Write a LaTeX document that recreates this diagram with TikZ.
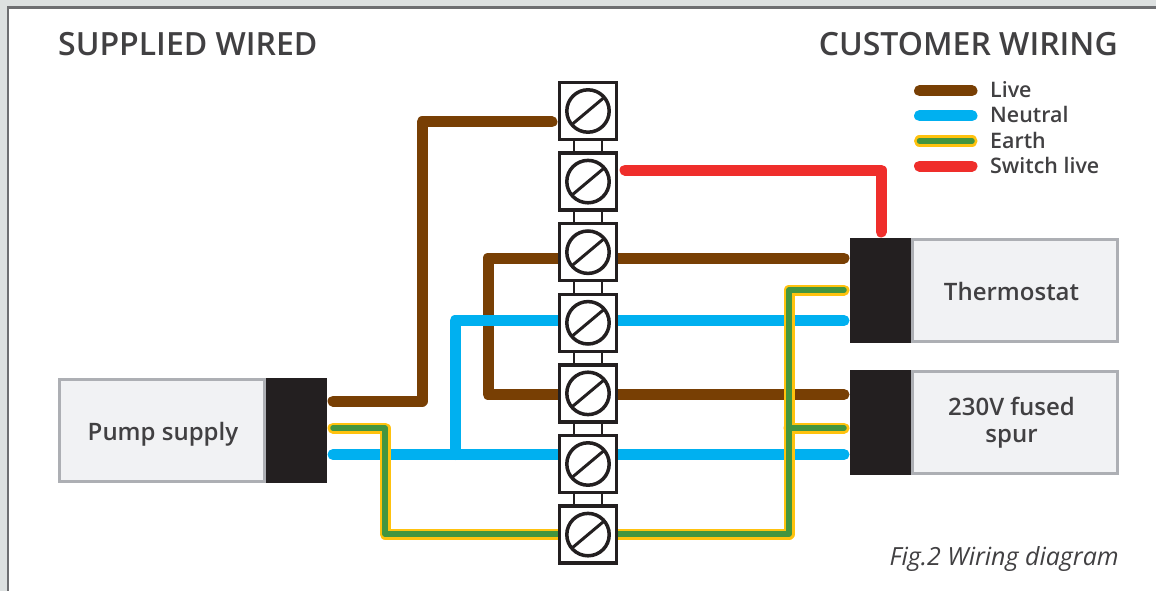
\documentclass[tikz,border=0pt]{standalone}
\usepackage{fontspec}
\setmainfont{Open Sans}
\newfontfamily\wiringfont{Open Sans Semibold}
\definecolor{backgrey}{HTML}{DCE0E0}
\definecolor{framegrey}{HTML}{6D6E71}
\definecolor{textgrey}{HTML}{414042}
\definecolor{blockblack}{HTML}{231F20}
\definecolor{boxfill}{HTML}{F1F2F4}
\definecolor{boxline}{HTML}{ADAFB4}
\definecolor{livebrown}{HTML}{783F04}
\definecolor{neutralblue}{HTML}{00B0F0}
\definecolor{earthyellow}{HTML}{FFC20E}
\definecolor{earthgreen}{HTML}{43953F}
\definecolor{switchred}{HTML}{EF2E2B}
\tikzset{
    live/.style={draw=livebrown, line width=11, line cap=round, line join=round},
    neutral/.style={draw=neutralblue, line width=11, line cap=round, line join=round},
    switched/.style={draw=switchred, line width=11, line cap=round, line join=round},
    earth/.style={draw=earthyellow, double=earthgreen, line width=2.75, double distance=5.5, line cap=round, line join=round},
    terminal/.style={draw=blockblack, fill=white, line width=3.5, minimum size=57, inner sep=0},
    block/.style={fill=blockblack, minimum width=61, inner sep=0},
    device/.style={draw=boxline, fill=boxfill, line width=2.2, minimum width=205, minimum height=102, inner sep=0},
    devicetext/.style={inner sep=0, text=textgrey, align=center, font=\wiringfont\fontsize{24}{28}\selectfont},
    oneline/.style={text height=19, text depth=0},
    heading/.style={inner sep=0, text=textgrey, font=\wiringfont\fontsize{32}{36}\selectfont},
    keylabel/.style={anchor=west, inner sep=0, text height=14, text depth=0, text=textgrey, font=\wiringfont\fontsize{21.4}{24}\selectfont},
}
\begin{document}
\begin{tikzpicture}[x=1pt, y=-1pt]
    \useasboundingbox (0,0) rectangle (1156,591);
    % Background and frame
    \fill[backgrey] (0,0) rectangle (1156,591);
    \fill[white] (8,8) rectangle (1156,591);
    \draw[framegrey, line width=2.5] (8,591) -- (8,7.5) -- (1156,7.5);

    % Headings
    \node[heading, anchor=base west] (supplied) at (58,55.5) {SUPPLIED WIRED};
    \node[heading, anchor=base east] (customer) at (1118,55.5) {CUSTOMER WIRING};

    % Devices
    \node[device] (pump) at (162,430.5) {};
    \node[device] (stat) at (1015,290.5) {};
    \node[device] (spur) at (1015,422.5) {};
    \node[devicetext, oneline] (pumptext) at (163,430.5) {Pump supply};
    \node[devicetext, oneline] (stattext) at (1011.5,290.5) {Thermostat};
    \node[devicetext] (spurtext) at (1011.5,422.5) {230V fused\\[-1pt]spur};
    \node[block, minimum height=105, anchor=west] (pumpblock) at (266,430.5) {};
    \node[block, minimum height=105, anchor=east] (statblock) at (911,290.5) {};
    \node[block, minimum height=105, anchor=east] (spurblock) at (911,422.5) {};

    % Wire ends
    \coordinate (pumpL) at (333,401);
    \coordinate (pumpE) at (333,428);
    \coordinate (pumpN) at (333,454.5);
    \coordinate (statS) at (881,232);
    \coordinate (statL) at (844,258);
    \coordinate (statE) at (844,290);
    \coordinate (statN) at (844,320.5);
    \coordinate (spurL) at (844,394.5);
    \coordinate (spurE) at (844,428);
    \coordinate (spurN) at (844,454.5);
    \coordinate (termL) at (552,122);
    \coordinate (termS) at (625,170);

    % Wires
    \draw[live] (pumpL) -| (422,122) -- (termL);
    \draw[live] (statL) -| (488,394.5) -- (spurL);
    \draw[neutral] (pumpN) -- (spurN);
    \draw[neutral] (statN) -| (455,454.5);
    \draw[switched] (termS) -| (statS);
    \draw[earth] (pumpE) -| (385,534) -| (789,290) -- (statE) (789,428) -- (spurE);

    % Terminal strip
    \foreach \y [count=\i] in {111,181.6,252.2,322.8,393.4,464,534.6} {
        \node[terminal] (term\i) at (588,\y) {};
    }
    \foreach \i/\j in {1/2,2/3,3/4,4/5,5/6,6/7} {
        \draw[blockblack, line width=2.5] ([xshift=-14]term\i.south) -- ([xshift=-14]term\j.north);
        \draw[blockblack, line width=2.5] ([xshift=14]term\i.south) -- ([xshift=14]term\j.north);
    }
    \foreach \i in {1,...,7} {
        \draw[blockblack, line width=3.5] (term\i) circle (21.2);
        \draw[blockblack, line width=3] (term\i) ++(-40:-21) -- ++(-40:42);
    }

    % Key
    \foreach \name/\txt/\sty/\y in {live/Live/live/90.7, neutral/Neutral/neutral/115.7, earth/Earth/earth/141, switch/Switch live/switched/166} {
        \node[keylabel] (key\name) at (990,\y) {\txt};
        \draw[\sty] ([xshift=-70.5]key\name.west) -- ([xshift=-18]key\name.west);
    }

    % Caption
    \node[anchor=base east, inner sep=0, text=textgrey, font=\itshape\fontsize{25}{28}\selectfont] (caption) at (1119,565) {Fig.2 Wiring diagram};
\end{tikzpicture}
\end{document}
